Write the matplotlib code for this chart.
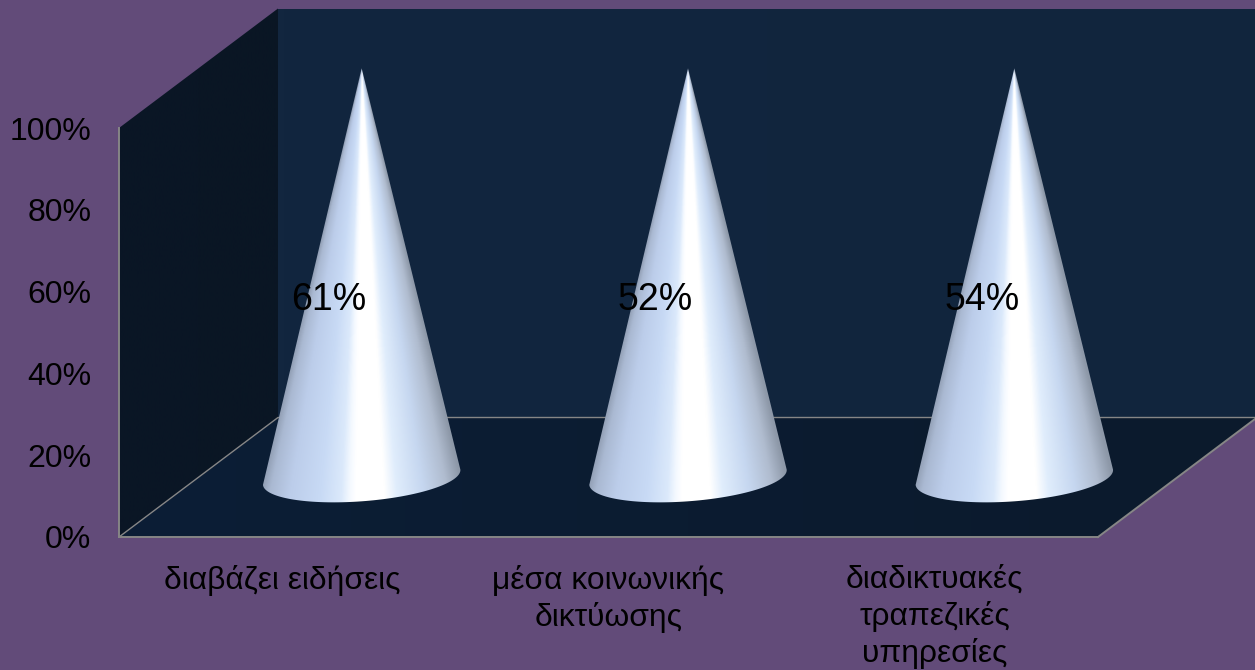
import numpy as np
import matplotlib
matplotlib.use("Agg")
import matplotlib.pyplot as plt
from matplotlib.colors import LinearSegmentedColormap
from matplotlib.patches import Polygon

categories = ["διαβάζει ειδήσεις", "μέσα κοινωνικής\nδικτύωσης", "διαδικτυακές\nτραπεζικές\nυπηρεσίες"]
cone_heights = [100, 100, 100]
data_labels = ["61%", "52%", "54%"]
y_ticks = [0, 20, 40, 60, 80, 100]
y_tick_labels = ["0%", "20%", "40%", "60%", "80%", "100%"]

plt.rcParams["font.family"] = ["Liberation Sans", "DejaVu Sans"]
W, H = 1255, 670
BG = "#624b79"
LINE = "#868686"

fig = plt.figure(figsize=(W / 100, H / 100), dpi=100, facecolor=BG)
ax = fig.add_axes([119 / W, (H - 537) / H, 979 / W, 409 / H], facecolor="none")

xlim = (-0.5, 2.5)
ylim = (0, 100)
px_x = 3 / 979      # data units per pixel
px_y = 100 / 409
dx = 159 * px_x     # 3D depth offset
dy = 119.5 * px_y
x0, x1 = xlim
y0, y1 = ylim


def clip_to(im, outline):
    patch = Polygon(outline, closed=True, transform=ax.transData, facecolor="none", edgecolor="none")
    patch.set_clip_on(False)
    ax.add_patch(patch)
    im.set_clip_on(True)
    im.set_clip_path(patch)
    im.set_clip_box(fig.bbox)


def gradient(colors, extent, clip, z):
    cmap = LinearSegmentedColormap.from_list("g", colors)
    g = np.linspace(0, 1, 256)[None, :]
    im = ax.imshow(g, cmap=cmap, extent=extent, aspect="auto", origin="lower", zorder=z,
                   interpolation="bilinear")
    clip_to(im, clip)


# back wall
back = [(x0 + dx, y0 + dy), (x1 + dx, y0 + dy), (x1 + dx, y1 + dy), (x0 + dx, y1 + dy)]
gradient(["#12263f", "#11253d"], (x0 + dx, x1 + dx, y0 + dy, y1 + dy), back, 1)
# side wall
side = [(x0, y0), (x0 + dx, y0 + dy), (x0 + dx, y1 + dy), (x0, y1)]
gradient(["#0a1626", "#0a1624"], (x0, x0 + dx, y0, y1 + dy), side, 1)
# floor
floor = [(x0, y0), (x1, y0), (x1 + dx, y0 + dy), (x0 + dx, y0 + dy)]
gradient(["#0c1e36", "#0b1c31", "#0b1a2c"], (x0, x1 + dx, y0, y0 + dy), floor, 1)

# floor and depth edges
ax.plot([x0, x0 + dx, x1 + dx], [y0, y0 + dy, y0 + dy], color=LINE, lw=1.0, zorder=2, clip_on=False)
ax.plot([x1, x1 + dx], [y0, y0 + dy], color=LINE, lw=1.4, zorder=2, clip_on=False)

# cones
cone_cmap = LinearSegmentedColormap.from_list("cone", [
    (0.00, "#8e9bb0"), (0.05, "#aab9d2"), (0.15, "#bccdea"), (0.30, "#c8daf5"),
    (0.40, "#dbe9fb"), (0.44, "#f4f9ff"), (0.47, "#ffffff"), (0.61, "#ffffff"),
    (0.67, "#e0edfc"), (0.80, "#c6d7f0"), (0.92, "#b0bccf"), (1.00, "#8d98a8")])
a_px, b_px, theta = 99, 24, np.radians(4.4)
a = a_px * px_x
for i, h in enumerate(cone_heights):
    cx = i + dx / 2
    cy = dy / 2
    t = np.linspace(np.pi, 2 * np.pi, 80)
    ex = (a_px * np.cos(t) * np.cos(theta) - b_px * np.sin(t) * np.sin(theta)) * px_x
    ey = (a_px * np.cos(t) * np.sin(theta) + b_px * np.sin(t) * np.cos(theta)) * px_y
    outline = np.vstack([[cx, cy + h], np.column_stack([cx + ex, cy + ey])])
    xs = np.linspace(cx - a * 1.05, cx + a * 1.05, 400)
    ys = np.linspace(cy - 30 * px_y, cy + h, 500)
    X, Y = np.meshgrid(xs, ys)
    frac = np.clip((cy + h - Y) / h, 1e-3, None)
    U = np.clip((X - cx) / (a * frac), -1, 1)
    im = ax.imshow((U + 1) / 2, cmap=cone_cmap, vmin=0, vmax=1, origin="lower", aspect="auto",
                   extent=(xs[0], xs[-1], ys[0], ys[-1]), zorder=3, interpolation="bilinear")
    clip_to(im, outline)
    ax.text(cx - 32.5 * px_x, cy + 177 * px_y, data_labels[i], ha="center", va="center",
            fontsize=27, color="black", zorder=5)

ax.set_xlim(*xlim)
ax.set_ylim(*ylim)
ax.set_yticks(y_ticks)
ax.set_yticklabels(y_tick_labels, fontsize=23, color="black")
ax.set_xticks(range(len(categories)))
ax.set_xticklabels(categories, fontsize=22.9, color="black", linespacing=1.25)
ax.tick_params(axis="y", length=0, pad=20)
ax.tick_params(axis="x", length=0, pad=20)
for s in ("top", "right"):
    ax.spines[s].set_visible(False)
for s in ("left", "bottom"):
    ax.spines[s].set_color(LINE)
    ax.spines[s].set_linewidth(1.4)
    ax.spines[s].set_zorder(4)

fig.savefig("out.png", dpi=100, facecolor=BG)
